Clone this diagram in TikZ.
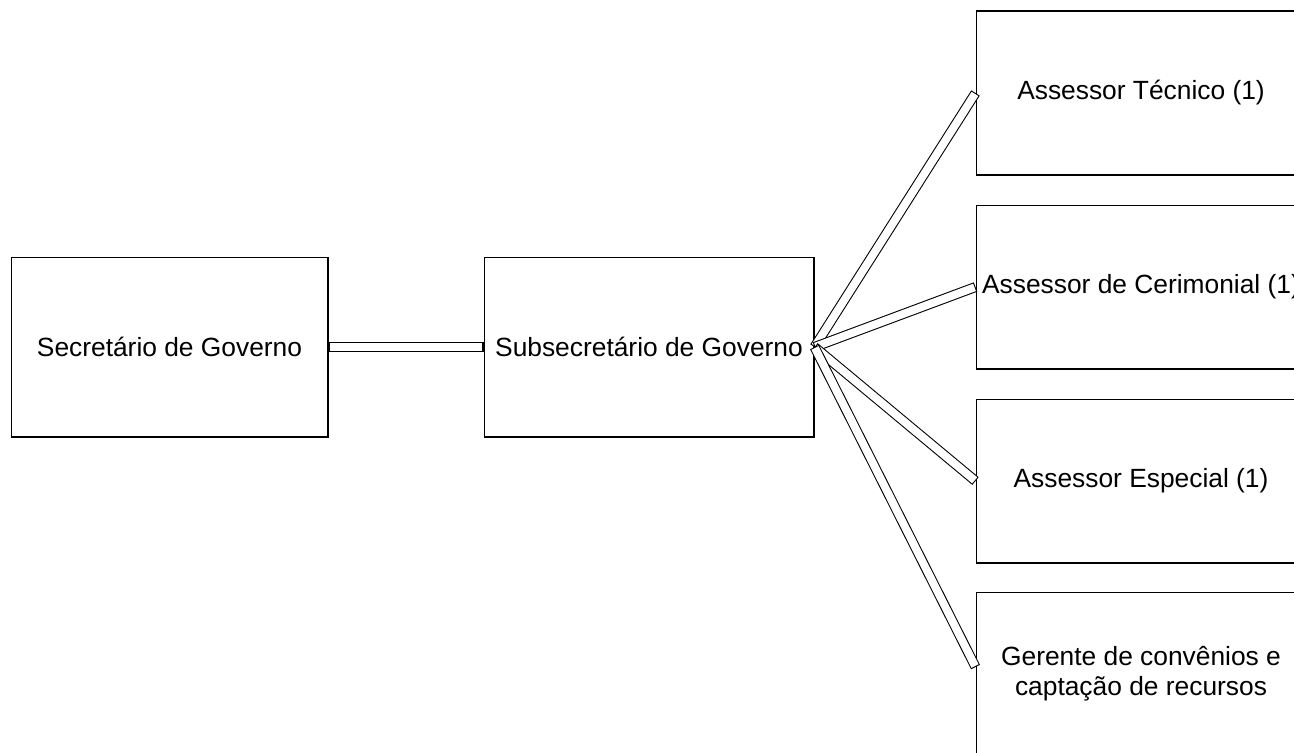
\documentclass[tikz,border=0pt]{standalone}
\usepackage{fontspec}
\setmainfont{Liberation Sans}
\begin{document}
\begin{tikzpicture}[x=0.02cm, y=-0.02cm,
    cargo/.style={draw, rectangle, line width=0.6pt, minimum width=6.6cm, minimum height=3.6cm, inner sep=0pt, align=center, font=\fontsize{15}{17}\selectfont},
    assessor/.style={cargo, minimum height=3.28cm},
    barra/.style={line width=5.7pt},
    barrain/.style={line width=4.5pt, white, shorten <=0.6pt, shorten >=0.6pt}]
  \useasboundingbox (0,0) rectangle (1294,752);
  \node at (169.5,347) [cargo, minimum width=6.34cm] (SG) {Secretário de Governo};
  \node at (649,347) [cargo] (SUB) {Subsecretário de Governo};
  \node at (1141,93) [assessor] (AT) {Assessor Técnico (1)};
  \node at (1141,287) [assessor] (AC) {Assessor de Cerimonial (1)};
  \node at (1141,481) [assessor] (AE) {Assessor Especial (1)};
  \node at (1141,674) [assessor] (GC) {Gerente de convênios e\\captação de recursos};
  \coordinate (GCin) at ([yshift=0.14cm]GC.west);
  % ligacoes
  \draw[barra] (SG.east) -- (SUB.west);
  \draw[barrain] (SG.east) -- (SUB.west);
  \foreach \b in {AT.west,AC.west,AE.west,GCin} {
    \draw[barra] (SUB.east) -- (\b);
    \draw[barrain] (SUB.east) -- (\b);
  }
\end{tikzpicture}
\end{document}
